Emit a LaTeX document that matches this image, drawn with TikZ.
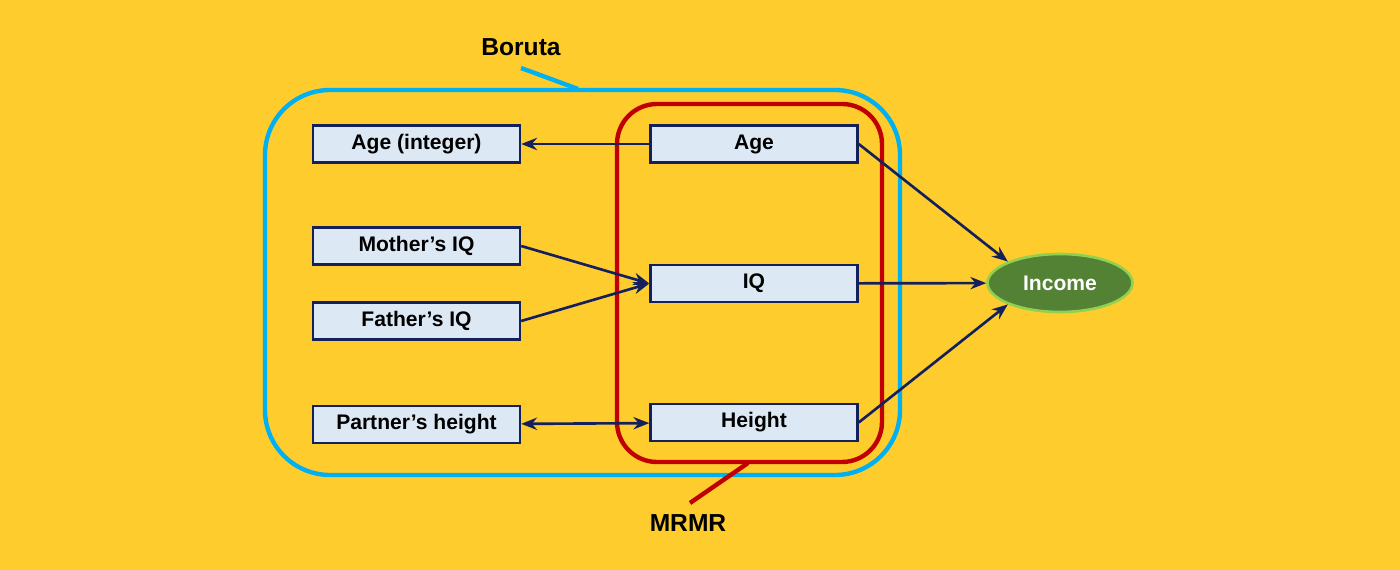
\documentclass[tikz,border=0pt]{standalone}
\usepackage{fontspec}
\setmainfont{Liberation Sans}
\usetikzlibrary{arrows.meta,shapes.geometric}
\definecolor{bg}{HTML}{FFCC2E}
\definecolor{boxf}{HTML}{DDE8F5}
\definecolor{navy}{HTML}{13205C}
\definecolor{bor}{HTML}{00B0F0}
\definecolor{mr}{HTML}{C00000}
\definecolor{inc}{HTML}{548235}
\definecolor{incb}{HTML}{92D050}
\begin{document}
\begin{tikzpicture}[x=0.02cm,y=-0.02cm,
  box/.style={draw=navy,line width=1.4pt,fill=boxf,minimum width=4.14cm,minimum height=0.74cm,inner sep=0pt,font=\fontsize{12}{14}\selectfont\bfseries},
  arr/.style={navy,line width=1.5pt,-{Stealth[length=9pt,width=7pt]}},
  lab/.style={font=\fontsize{14}{16}\selectfont\bfseries}]
\fill[bg] (0,0) rectangle (1400,570);
\useasboundingbox (0,0) rectangle (1400,570);
\draw[bor,line width=2.5pt,rounded corners=1.3cm] (265,90) rectangle (900,475);
\draw[mr,line width=2.5pt,rounded corners=0.8cm] (617,104) rectangle (882,462);
\node[lab] (boruta) at (521,47) {Boruta};
\coordinate (b1) at (521,68); \coordinate (b2) at (578,89);
\draw[bor,line width=2.5pt] (b1) -- (b2);
\node[lab] (mrmr) at (688,523) {MRMR};
\coordinate (m1) at (690,503); \coordinate (m2) at (748,463);
\draw[mr,line width=2.5pt] (m1) -- (m2);
\node[box] (agei) at (416.5,144) {Age (integer)};
\node[box] (mom) at (416.5,246) {Mother’s IQ};
\node[box] (dad) at (416.5,321) {Father’s IQ};
\node[box] (ph) at (416.5,424.5) {Partner’s height};
\node[box] (age) at (754,144) {Age};
\node[box] (iq) at (754,283.5) {IQ};
\node[box] (h) at (754,422.5) {Height};
\node[ellipse,draw=incb,line width=1.5pt,fill=inc,text=white,minimum width=2.9cm,minimum height=1.16cm,inner sep=0pt,font=\fontsize{12}{14}\selectfont\bfseries] (inc) at (1060,283) {Income};
\draw[arr] (age) -- (agei);
\draw[arr] (mom.east) -- (iq.west);
\draw[arr] (dad.east) -- (iq.west);
\draw[arr,{Stealth[length=9pt,width=7pt]}-{Stealth[length=9pt,width=7pt]}] (ph) -- (h);
\draw[arr] (age.east) -- (inc.north west);
\draw[arr] (iq) -- (inc);
\draw[arr] (h.east) -- (inc.south west);
\end{tikzpicture}
\end{document}
